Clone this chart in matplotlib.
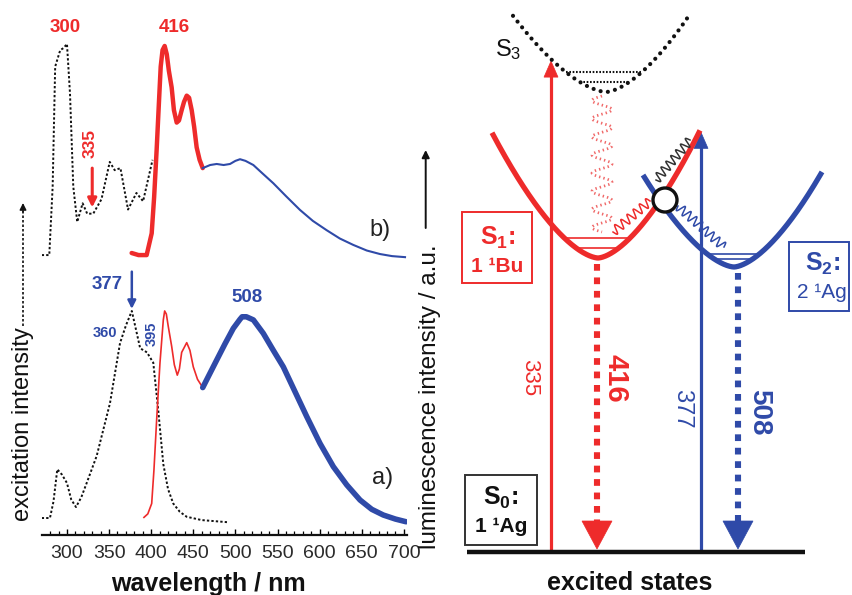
import numpy as np
import matplotlib
matplotlib.use("Agg")
import matplotlib.pyplot as plt
from matplotlib.patches import Rectangle, Circle, Polygon

plt.rcParams['font.family'] = ['Liberation Sans', 'DejaVu Sans']
plt.rcParams['mathtext.fontset'] = 'custom'
plt.rcParams['mathtext.rm'] = 'Liberation Sans'
plt.rcParams['mathtext.bf'] = 'Liberation Sans:bold'
plt.rcParams['mathtext.it'] = 'Liberation Sans'

RED = '#ee2b2b'
BLUE = '#2f4aa8'
PINK = '#f06868'
DARK = '#222222'

# ---------------- spectra ----------------
# (a) excitation spectrum (dotted)
exc_a_nm = [270, 279.8, 284, 288.5, 294, 300, 305, 310.7, 317, 323.4, 335.3, 351.1,
            363, 370, 377, 386.9, 395, 402.5, 408.4, 414.4, 420, 426.2, 434, 442.2, 460, 490]
exc_a_int = [0, 0, 0.08, 0.235, 0.21, 0.169, 0.09, 0.053, 0.10, 0.169, 0.30, 0.555,
             0.845, 0.93, 1.0, 0.82, 0.80, 0.75, 0.52, 0.26, 0.14, 0.07, 0.03, 0.006, -0.01, -0.02]

# (a) emission, vibronic part (thin red) and broad band (thick blue)
em_a_red_nm = [391.4, 396, 400.6, 403.3, 406.5, 410.4, 414.4, 416, 418, 420.3, 424.3, 427.5,
               431, 433.5, 436.2, 442.2, 446, 450, 455, 461.2]
em_a_red_int = [0.003, 0.02, 0.07, 0.233, 0.475, 0.747, 0.957, 1.0, 0.985, 0.925, 0.83, 0.74,
                0.69, 0.72, 0.80, 0.847, 0.81, 0.73, 0.67, 0.63]
em_a_blue_nm = [461.2, 467.8, 477.8, 487.6, 497.5, 505.5, 508, 513, 521.3, 533.1, 545, 556.9,
                570.8, 584.7, 600.5, 616.3, 632.2, 648, 661.9, 675.6, 690, 702.6]
em_a_blue_int = [0.63, 0.683, 0.763, 0.841, 0.916, 0.96, 0.972, 0.972, 0.957, 0.892, 0.81, 0.73,
                 0.61, 0.49, 0.36, 0.248, 0.16, 0.087, 0.042, 0.0145, -0.005, -0.018]

# (b) excitation spectrum (dotted)
exc_b_nm = [270, 279, 283, 286, 292, 296, 300, 303.6, 307.5, 312.2, 318.6, 324, 331.2, 341,
            350.8, 356.7, 363.5, 372.5, 382.5, 390.4, 401.6]
exc_b_int = [0, 0, 0.33, 0.91, 0.99, 1.0, 1.02, 0.78, 0.33, 0.16, 0.25, 0.20, 0.20, 0.27,
             0.45, 0.41, 0.42, 0.22, 0.30, 0.26, 0.46]

# (b) emission, vibronic part (thick red) and broad band (thin blue)
em_b_red_nm = [376.8, 385, 394.6, 400.6, 403.5, 406.5, 409, 411.3, 413.5, 416, 418.5, 421,
               424.3, 427, 430.3, 433, 436.2, 439, 442.2, 445, 448.1, 451, 454, 457.5, 461.2]
em_b_red_int = [0.01, 0.0, 0.0, 0.105, 0.28, 0.51, 0.72, 0.91, 0.99, 1.01, 0.97, 0.89,
                0.81, 0.70, 0.64, 0.65, 0.70, 0.74, 0.77, 0.76, 0.70, 0.62, 0.52, 0.46, 0.42]
em_b_blue_nm = [461.2, 470, 477.8, 486, 493.6, 500, 505.5, 512, 521.3, 532, 545, 560,
                576.7, 592, 608.4, 624, 640, 656, 671.7, 686, 701.4]
em_b_blue_int = [0.42, 0.435, 0.44, 0.435, 0.44, 0.455, 0.463, 0.455, 0.435, 0.395, 0.347, 0.285,
                 0.218, 0.165, 0.12, 0.08, 0.049, 0.022, 0.005, -0.005, -0.01]

B_OFFSET = 1.27  # vertical shift of trace (b)

W, H = 852, 595
fig = plt.figure(figsize=(W / 100, H / 100), dpi=100)

# ---------------- left: spectra ----------------
ax = fig.add_axes([41.7 / W, (H - 535) / H, (406.7 - 41.7) / W, 535 / H])
ax.set_xlim(270, 703.4)
ax.set_ylim(-0.082, 2.502)
for s in ('top', 'right', 'left'):
    ax.spines[s].set_visible(False)
ax.spines['bottom'].set_linewidth(1.6)
ax.spines['bottom'].set_color('#111111')
ax.set_yticks([])
ax.set_xticks(np.arange(300, 701, 50))
ax.set_xticks(np.arange(280, 701, 10), minor=True)
ax.tick_params(axis='x', which='major', direction='in', length=4, width=1.0,
               labelsize=14, labelcolor='#2a2a2a', pad=7)
ax.tick_params(axis='x', which='minor', direction='in', length=3, width=0.9)
ax.patch.set_alpha(0)

dots = (0, (1.2, 1.1))
ax.plot(exc_a_nm, exc_a_int, color='#111111', lw=1.4, ls=dots)
ax.plot(em_a_red_nm, em_a_red_int, color=RED, lw=1.2, solid_joinstyle='round')
ax.plot(em_a_blue_nm, em_a_blue_int, color=BLUE, lw=4.0, solid_capstyle='round',
        solid_joinstyle='round')

ax.plot(exc_b_nm, np.array(exc_b_int) + B_OFFSET, color='#111111', lw=1.4, ls=dots)
ax.plot(em_b_red_nm, np.array(em_b_red_int) + B_OFFSET, color=RED, lw=3.2,
        solid_capstyle='round', solid_joinstyle='round')
ax.plot(em_b_blue_nm, np.array(em_b_blue_int) + B_OFFSET, color=BLUE, lw=1.5,
        solid_joinstyle='round')

# peak labels
ax.text(297.5, 2.37, '300', color=RED, fontsize=13.5, fontweight='bold', ha='center', va='center')
ax.text(428, 2.37, '416', color=RED, fontsize=13.5, fontweight='bold', ha='center', va='center')
ax.text(327.3, 1.81, '335', color=RED, fontsize=12.5, fontweight='bold', ha='center',
        va='center', rotation=90)
ax.annotate('', xy=(330, 1.50), xytext=(330, 1.69),
            arrowprops=dict(arrowstyle='-|>', color=RED, lw=2.2, mutation_scale=13,
                            shrinkA=0, shrinkB=0))
ax.text(347.5, 1.126, '377', color=BLUE, fontsize=13.5, fontweight='bold', ha='center', va='center')
ax.annotate('', xy=(377, 1.01), xytext=(377, 1.19),
            arrowprops=dict(arrowstyle='-|>', color=BLUE, lw=1.8, mutation_scale=12,
                            shrinkA=0, shrinkB=0))
ax.text(514, 1.063, '508', color=BLUE, fontsize=13.5, fontweight='bold', ha='center', va='center')
ax.text(345, 0.894, '360', color=BLUE, fontsize=10.5, fontweight='bold', ha='center', va='center')
ax.text(401, 0.89, '395', color=BLUE, fontsize=10.5, fontweight='bold', ha='center',
        va='center', rotation=90)
ax.text(675, 0.193, 'a)', color=DARK, fontsize=17, ha='center', va='center')
ax.text(672, 1.39, 'b)', color=DARK, fontsize=17, ha='center', va='center')

# ---------------- overlay in pixel space ----------------
ov = fig.add_axes([0, 0, 1, 1])
ov.set_xlim(0, W)
ov.set_ylim(H, 0)
ov.axis('off')

ov.text(208, 584, 'wavelength / nm', fontsize=18, fontweight='bold', color='#111111',
        ha='center', va='center')
ov.text(23, 424, 'excitation intensity', fontsize=17, rotation=90, color='#111111',
        ha='center', va='center')
ov.plot([23, 23], [326, 211], color='#111111', lw=1.2, ls=(0, (1.5, 1.2)))
ov.annotate('', xy=(23, 203), xytext=(23, 212),
            arrowprops=dict(arrowstyle='-|>', color='#111111', lw=1.0, mutation_scale=10,
                            shrinkA=0, shrinkB=0))
ov.text(430, 397, 'luminescence intensity / a.u.', fontsize=17.5, rotation=90, color='#111111',
        ha='center', va='center')
ov.annotate('', xy=(425.7, 150), xytext=(425.7, 228),
            arrowprops=dict(arrowstyle='-|>', color='#111111', lw=1.4, mutation_scale=11,
                            shrinkA=0, shrinkB=0))

# ---------------- right: state diagram ----------------
def pes(st, x):
    dx = x - st['x0']
    k = np.where(dx < 0, st['kl'], st['kr'])
    return st['y0'] - k * np.abs(dx) ** 1.6


def level_span(st, h):
    return (st['x0'] - (h / st['kl']) ** (1 / 1.6), st['x0'] + (h / st['kr']) ** (1 / 1.6))


S1 = dict(x0=598, y0=258, kl=0.072, kr=0.078, xl=492, xr=700)
S2 = dict(x0=734, y0=267, kl=0.0675, kr=0.0736, xl=643, xr=822)
S3 = dict(x0=606, y0=92, kl=0.054, kr=0.065, xl=513, xr=690)

GROUND_Y = 552

# S3 (dotted)
xs = np.linspace(S3['xl'], S3['xr'], 300)
ov.plot(xs, pes(S3, xs), color='#111111', lw=3.0, ls=(0, (0.01, 1.75)), dash_capstyle='round')
for h in (20, 10):
    a, b = level_span(S3, h)
    ov.plot([a, b], [S3['y0'] - h] * 2, color='#111111', lw=1.5, ls=(0, (0.8, 0.8)))
ov.text(495, 50, r'S$_3$', fontsize=17, color='#111111', ha='left', va='center')

# S2 (blue)
xs = np.linspace(S2['xl'], S2['xr'], 300)
ov.plot(xs, pes(S2, xs), color=BLUE, lw=3.8, solid_capstyle='butt')
for h in (13, 8):
    a, b = level_span(S2, h)
    ov.plot([a, b], [S2['y0'] - h] * 2, color=BLUE, lw=1.2)

# S1 (red)
xs = np.linspace(S1['xl'], S1['xr'], 300)
ov.plot(xs, pes(S1, xs), color=RED, lw=3.8, solid_capstyle='butt')
for h in (20, 10):
    a, b = level_span(S1, h)
    ov.plot([a, b], [S1['y0'] - h] * 2, color=RED, lw=1.2)


def spring(p0, p1, n, amp, npts=400):
    p0, p1 = np.asarray(p0, float), np.asarray(p1, float)
    t = np.linspace(0, 1, npts)
    d = p1 - p0
    nrm = np.array([-d[1], d[0]]) / np.hypot(*d)
    off = amp * np.sin(2 * np.pi * n * t)
    pts = p0[None, :] + t[:, None] * d[None, :] + off[:, None] * nrm[None, :]
    return pts[:, 0], pts[:, 1]


# internal conversion S3 -> S1 (wavy dotted)
x, y = spring((602, 96), (602, 232), 7.5, 10)
ov.plot(x, y, color=PINK, lw=2.0, ls=(0, (0.5, 1.1)))
# relaxations along the curves
x, y = spring((613, 232), (650, 201), 6, 4.5)
ov.plot(x, y, color=RED, lw=1.1)
x, y = spring((656, 180), (690, 140), 7, 4.5)
ov.plot(x, y, color='#333333', lw=1.1)
x, y = spring((678, 206), (724, 247), 8, 4.5)
ov.plot(x, y, color=BLUE, lw=1.1)

ov.add_patch(Circle((665, 200), 12, facecolor='white', edgecolor='#111111', lw=2.4, zorder=5))

# ground state line
ov.plot([467, 805], [GROUND_Y, GROUND_Y], color='#111111', lw=3.2, solid_capstyle='butt', zorder=4)


def up_arrow(x, tip, color):
    ov.plot([x, x], [GROUND_Y, tip + 14], color=color, lw=2.3, solid_capstyle='butt')
    ov.add_patch(Polygon([(x - 7, tip + 16), (x + 7, tip + 16), (x, tip)], closed=True,
                         facecolor=color, edgecolor=color, lw=0.5))


def down_arrow(x, top, color):
    ov.plot([x, x], [top, GROUND_Y - 31], color=color, lw=4.4, ls=(0, (1.1, 1.1)),
            dash_capstyle='butt')
    ov.add_patch(Polygon([(x - 15, GROUND_Y - 31), (x + 15, GROUND_Y - 31), (x, GROUND_Y - 3)],
                         closed=True, facecolor=color, edgecolor=color, lw=0.5))


up_arrow(551, float(pes(S3, 551)) + 2, RED)
up_arrow(701, float(pes(S1, 701)) + 4, BLUE)
down_arrow(597, S1['y0'] + 6, RED)
down_arrow(738, S2['y0'] + 6, BLUE)

ov.text(530, 378, '335', color=RED, fontsize=16, rotation=270, ha='center', va='center')
ov.text(616, 378, '416', color=RED, fontsize=21, fontweight='bold', rotation=270,
        ha='center', va='center')
ov.text(682, 409, '377', color=BLUE, fontsize=17, rotation=270, ha='center', va='center')
ov.text(759, 412, '508', color=BLUE, fontsize=20, fontweight='bold', rotation=270,
        ha='center', va='center')

# state boxes
ov.add_patch(Rectangle((462, 212), 70, 71, fill=False, edgecolor=RED, lw=1.4))
ov.text(498, 238, r'S$_\mathbf{1}$:', color=RED, fontsize=18, fontweight='bold',
        ha='center', va='center')
ov.text(497, 266, '1 \u00b9Bu', color=RED, fontsize=15, fontweight='bold', ha='center', va='center')

ov.add_patch(Rectangle((789, 242), 60, 69, fill=False, edgecolor=BLUE, lw=1.4))
ov.text(805, 264, r'S$_\mathbf{2}$:', color=BLUE, fontsize=18, fontweight='bold',
        ha='left', va='center')
ov.text(797, 293, '2 \u00b9Ag', color=BLUE, fontsize=15, ha='left', va='center')

ov.add_patch(Rectangle((465, 475), 72, 70, fill=False, edgecolor='#333333', lw=1.4))
ov.text(501, 498, r'S$_\mathbf{0}$:', color='#111111', fontsize=18, fontweight='bold',
        ha='center', va='center')
ov.text(501, 527, '1 \u00b9Ag', color='#111111', fontsize=15, fontweight='bold',
        ha='center', va='center')

ov.text(630, 583, 'excited states', fontsize=18, fontweight='bold', color='#111111',
        ha='center', va='center')

fig.savefig('out.png', dpi=100, facecolor='white')
